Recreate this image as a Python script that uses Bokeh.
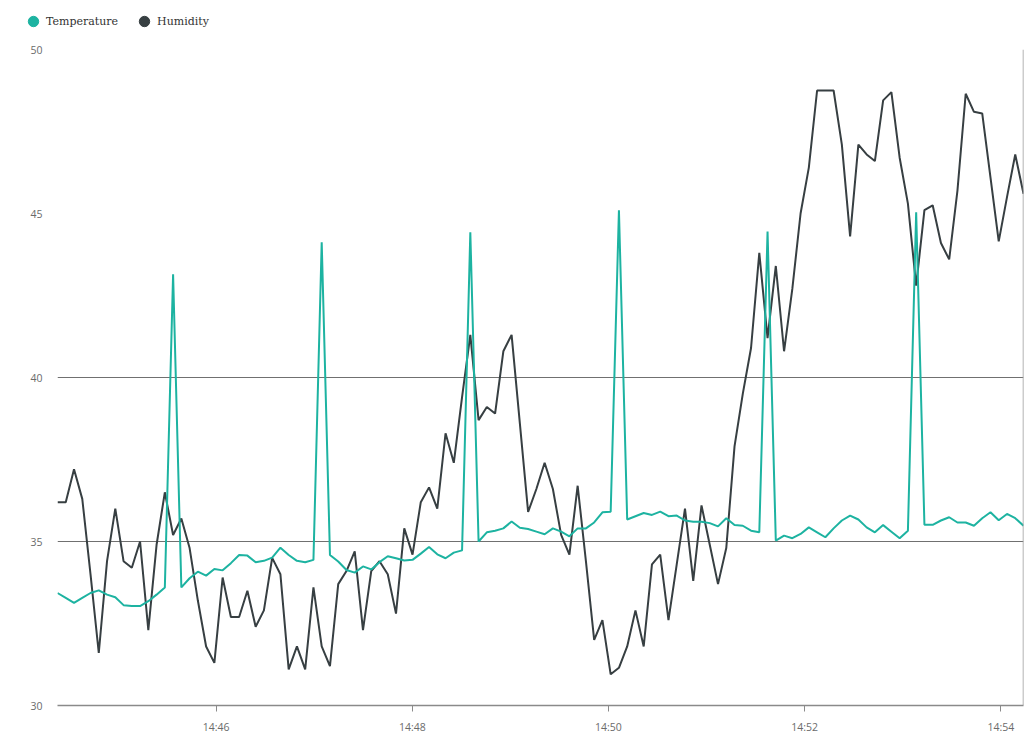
import pandas as pd
from bokeh.plotting import figure
from bokeh.layouts import column
from bokeh.models import Range1d, FixedTicker, DatetimeTickFormatter, Legend, LegendItem, Span
from bokeh.embed import file_html
from bokeh.resources import INLINE

# ---- data ----
start_time = "2024-05-10 14:44:23"
sample_step = "5050ms"

temperature = [33.43, 33.28, 33.13, 33.28, 33.43, 33.51, 33.38, 33.30, 33.06, 33.03,
               33.03, 33.18, 33.38, 33.60, 43.15, 33.60, 33.88, 34.08, 33.96, 34.16,
               34.12, 34.34, 34.59, 34.57, 34.37, 34.41, 34.51, 34.81, 34.59, 34.41,
               34.37, 34.44, 44.12, 34.59, 34.39, 34.13, 34.05, 34.24, 34.15, 34.37,
               34.55, 34.49, 34.42, 34.44, 34.63, 34.83, 34.61, 34.49, 34.66, 34.73,
               44.43, 35.00, 35.28, 35.33, 35.40, 35.61, 35.42, 35.38, 35.30, 35.22,
               35.40, 35.30, 35.16, 35.40, 35.40, 35.58, 35.89, 35.91, 45.10, 35.67,
               35.77, 35.87, 35.81, 35.91, 35.77, 35.79, 35.64, 35.60, 35.60, 35.56,
               35.46, 35.71, 35.50, 35.48, 35.33, 35.28, 44.45, 35.03, 35.18, 35.10,
               35.23, 35.43, 35.28, 35.13, 35.40, 35.64, 35.79, 35.67, 35.43, 35.28,
               35.50, 35.30, 35.10, 35.33, 45.04, 35.51, 35.51, 35.64, 35.74, 35.58,
               35.58, 35.48, 35.71, 35.89, 35.65, 35.84, 35.71, 35.48]

humidity = [36.2, 36.2, 37.2, 36.3, 34.0, 31.6, 34.4, 36.0, 34.4, 34.2,
            35.0, 32.3, 34.9, 36.5, 35.2, 35.7, 34.8, 33.2, 31.8, 31.3,
            33.9, 32.7, 32.7, 33.5, 32.4, 32.9, 34.5, 34.0, 31.1, 31.8,
            31.1, 33.6, 31.8, 31.2, 33.7, 34.1, 34.7, 32.3, 34.1, 34.4,
            34.0, 32.8, 35.4, 34.6, 36.2, 36.65, 36.0, 38.3, 37.4, 39.4,
            41.3, 38.7, 39.1, 38.9, 40.8, 41.3, 38.6, 35.9, 36.6, 37.4,
            36.6, 35.2, 34.6, 36.7, 34.4, 32.0, 32.6, 30.95, 31.15, 31.8,
            32.9, 31.8, 34.3, 34.6, 32.6, 34.3, 36.0, 33.8, 36.1, 34.9,
            33.7, 34.8, 37.9, 39.5, 40.9, 43.8, 41.2, 43.4, 40.8, 42.7,
            45.0, 46.4, 48.75, 48.75, 48.75, 47.1, 44.3, 47.1, 46.8, 46.6,
            48.45, 48.7, 46.7, 45.3, 42.8, 45.1, 45.25, 44.1, 43.6, 45.7,
            48.65, 48.1, 48.05, 46.1, 44.15, 45.5, 46.8, 45.6]

x_tick_labels = ["14:46", "14:48", "14:50", "14:52", "14:54"]
y_ticks = [30, 35, 40, 45, 50]
grid_lines = [35, 40]
series_names = ["Temperature", "Humidity"]

# ---- styles ----
TEAL = "#1db3a1"
DARK = "#373f42"
GRID = "#707070"
LABEL = "#6b6b6b"

times = pd.date_range(start_time, periods=len(humidity), freq=sample_step)
day = start_time.split(" ")[0]
tick_ms = [pd.Timestamp(day + " " + t).value / 1e6 for t in x_tick_labels]

# ---- legend strip (its own small figure above the chart) ----
lg = figure(width=1024, height=41, x_range=Range1d(0, 1), y_range=Range1d(0, 1),
            min_border=0, x_axis_location=None, y_axis_location=None,
            output_backend="svg", toolbar_location=None)
lg.frame_align = False
lg.grid.visible = False
lg.outline_line_color = None
# series drawn outside this strip's view; used only for the legend symbols
s_t = lg.scatter(times, temperature, marker="circle", fill_color=TEAL, line_color=TEAL)
s_h = lg.scatter(times, humidity, marker="circle", fill_color=DARK, line_color=DARK)
legend = Legend(items=[LegendItem(label=series_names[0], renderers=[s_t], index=0),
                       LegendItem(label=series_names[1], renderers=[s_h], index=0)],
                location=(20, 7), orientation="horizontal",
                border_line_color=None, background_fill_alpha=0,
                inactive_fill_alpha=0,
                padding=0, margin=0, spacing=13,
                glyph_width=26, glyph_height=26, label_standoff=0,
                label_text_font="DejaVu Serif", label_text_font_size="11px",
                label_text_color="#333333")
lg.add_layout(legend)

# ---- main chart ----
p = figure(x_axis_type="datetime",
           frame_width=966, frame_height=656,
           min_border_left=57, min_border_right=1, min_border_top=8, min_border_bottom=0,
           x_range=Range1d(times[0], times[-1]), y_range=Range1d(30, 50),
           output_backend="svg", toolbar_location=None)
p.frame_align = False
p.outline_line_color = None

p.line(times, humidity, line_color=DARK, line_width=2)
p.line(times, temperature, line_color=TEAL, line_width=2)

p.xaxis.ticker = FixedTicker(ticks=tick_ms)
p.xaxis.formatter = DatetimeTickFormatter(seconds="%H:%M", minsec="%H:%M", minutes="%H:%M",
                                          hourmin="%H:%M", hours="%H:%M")
p.xaxis.axis_line_color = "#8a8a8a"
p.xaxis.axis_line_width = 1.5
p.xaxis.major_tick_line_color = "#8a8a8a"
p.xaxis.major_tick_out = 6
p.xaxis.major_tick_in = 0
p.xaxis.minor_tick_line_color = None
p.xaxis.major_label_text_font = "Open Sans"
p.xaxis.major_label_text_font_size = "10.5px"
p.xaxis.major_label_text_color = LABEL
p.xaxis.major_label_standoff = 8

p.yaxis.ticker = FixedTicker(ticks=y_ticks)
p.yaxis.axis_line_color = None
p.yaxis.major_tick_line_color = None
p.yaxis.minor_tick_line_color = None
p.yaxis.major_label_text_font = "Open Sans"
p.yaxis.major_label_text_font_size = "10.5px"
p.yaxis.major_label_text_color = LABEL
p.yaxis.major_label_standoff = 9

p.xgrid.grid_line_color = None
p.ygrid.ticker = FixedTicker(ticks=grid_lines)
p.ygrid.grid_line_color = GRID
p.ygrid.grid_line_width = 1.2

p.add_layout(Span(location=times[-1].value / 1e6, dimension="height",
                  line_color="#9a9a9a", line_width=1.5))

layout = column(lg, p, spacing=0)
open("out.html", "w").write(file_html(layout, INLINE))
